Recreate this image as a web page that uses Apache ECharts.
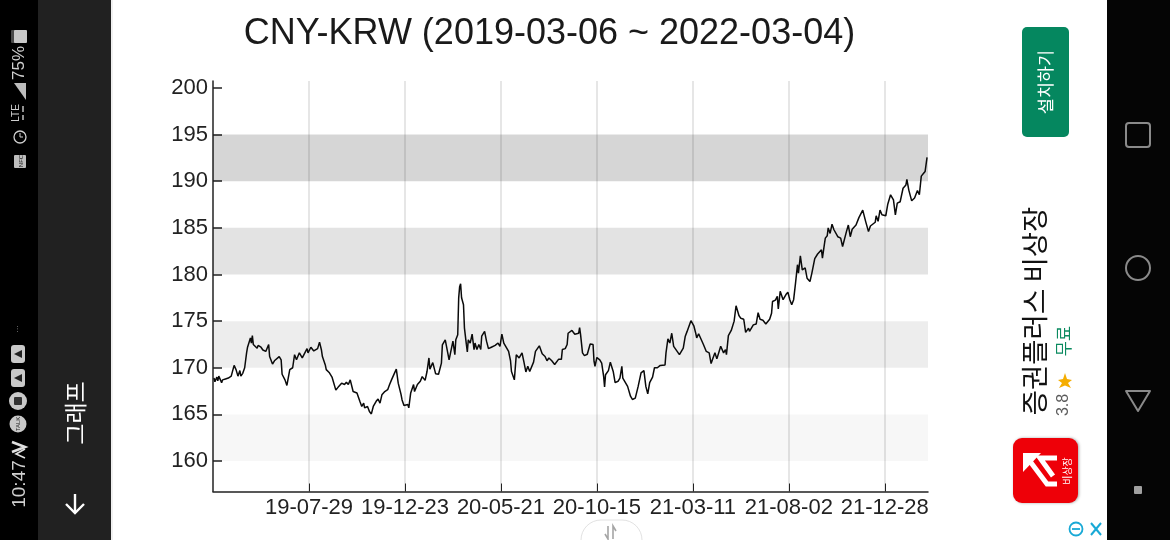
<!DOCTYPE html>
<html>
<head>
<meta charset="utf-8">
<title>CNY-KRW</title>
<style>
  html, body { margin: 0; padding: 0; background: #fff; }
  #chart { width: 1170px; height: 540px; }
</style>
<script src="https://cdn.jsdelivr.net/npm/echarts@6/dist/echarts.min.js"></script>
</head>
<body>
<div id="chart"></div>
<script>
// 차트 데이터
const chartTitle = 'CNY-KRW (2019-03-06 ~ 2022-03-04)';
const sessions = [
  1,2,4,5,6,8,9,10,13,16,19,21,22,24,25,26,28,29,31,33,34,35,36,38,39,40,41,42,44,46,47,50,52,55,56,58,59,61,62,64,66,69,71,72,75,77,79,80,83,85,86,87,90,92,93,98,99,102,105,107,109,111,113,114,117,118,121,
  124,125,128,131,132,134,137,139,141,143,146,148,150,151,153,155,157,158,161,163,165,167,170,172,174,176,179,182,184,186,189,191,193,196,197,199,201,203,204,206,209,210,213,216,218,221,223,225,226,229,232,235,238,239,242,244,
  246,248,250,252,253,255,256,257,258,259,261,262,264,265,266,268,270,272,273,275,277,279,280,283,285,287,290,294,297,299,301,303,305,308,310,311,314,316,319,322,324,326,328,330,334,336,340,343,346,348,350,353,356,360,363,364,367,369,370,
  374,377,381,382,383,385,387,390,392,393,396,397,398,400,403,405,407,408,409,412,414,417,419,422,424,426,427,429,432,434,435,437,440,443,446,449,451,453,455,458,460,463,466,468,471,472,474,476,478,480,482,486,490,492,494,
  498,501,503,504,506,508,511,514,517,519,521,523,525,529,532,534,535,537,540,543,545,548,550,553,555,558,559,563,566,568,570,573,576,580,582,583,586,588,589,591,594,597,599,601,603,605,607,609,610,612,614,617,619,622,624,
  627,630,632,634,635,637,638,640,641,643,645,647,649,651,654,656,658,660,662,664,666,670,673,675,677,679,680,682,683,685,690,691,693,695,697,701,703,706,709,711,713,716,719,722,723,725,728,731,734,736,738,740,742,744
];
const rates = [
  168.9,168.5,169.0,168.6,169.1,169.0,168.4,168.7,168.8,168.9,169.1,169.3,170.25,169.8,169.6,169.1,169.7,169.1,169.4,170.0,170.15,171.6,172.2,172.3,173.2,172.65,173.45,172.5,172.65,172.1,172.4,172.2,171.9,171.75,171.7,172.5,171.2,171.05,170.4,170.75,170.85,171.2,170.85,169.3,168.7,168.1,168.1,169.8,170.0,171.4,171.6,170.85,171.6,171.75,171.05,172.05,171.6,172.2,171.8,171.6,172.05,172.75,171.9,171.2,170.3,169.8,169.5,
  169.0,168.9,167.6,168.0,167.8,168.35,168.2,168.45,168.2,168.7,167.45,167.65,167.3,167.45,166.4,165.85,166.2,165.7,165.85,165.3,165.05,165.85,166.4,166.65,166.2,167.1,167.45,167.65,168.2,168.7,169.4,169.85,168.35,167.1,166.55,165.95,166.15,166.05,165.7,167.3,168.2,167.45,168.2,168.55,169.05,168.65,169.6,171.05,169.85,170.55,169.35,169.3,170.5,172.45,173.0,172.8,
  170.85,170.75,172.85,171.4,173.0,173.55,177.5,178.7,179.0,177.5,176.75,174.25,172.5,171.7,173.0,172.65,173.6,171.95,172.65,171.95,172.5,171.95,173.4,173.9,172.85,172.05,172.2,172.4,172.65,172.3,173.6,172.65,172.65,171.75,170.75,169.6,168.7,171.4,171.05,171.6,170.6,169.55,170.15,169.6,170.6,171.75,172.35,171.5,171.2,170.75,171.05,170.75,170.35,170.9,170.9,171.95,172.05,172.5,173.7,
  174.0,173.6,173.7,174.3,173.55,171.6,171.3,171.45,171.6,172.55,172.5,170.7,170.15,171.1,170.85,170.5,169.1,167.95,169.25,169.7,170.6,169.6,168.4,168.55,168.9,170.15,168.9,168.7,168.0,168.0,166.95,166.6,166.75,168.0,169.45,169.7,168.0,167.2,168.4,169.0,170.0,170.0,170.25,170.3,170.3,171.6,173.1,172.65,173.7,172.3,172.1,171.4,172.1,173.35,173.9,
  175.05,174.5,173.7,173.2,173.65,173.55,172.5,171.75,171.6,170.45,171.05,171.6,170.95,172.3,171.6,171.95,171.4,173.45,174.0,175.0,176.65,175.6,175.3,175.2,173.8,174.25,173.9,174.6,174.7,175.9,175.2,175.1,174.7,175.2,175.85,177.1,177.25,177.65,176.3,178.2,177.3,177.85,178.1,177.3,176.75,177.3,179.1,181.05,180.15,182.0,180.5,180.7,179.6,179.25,180.15,
  181.7,182.2,182.0,182.65,181.75,183.2,183.9,184.15,185.0,184.4,185.4,184.8,184.6,184.05,183.9,183.0,183.1,184.6,185.3,184.05,184.85,185.3,186.1,185.9,186.9,187.1,185.7,185.6,184.6,185.2,185.6,186.3,185.7,186.9,186.4,186.3,187.5,188.55,188.0,186.4,187.65,187.8,189.25,189.6,190.2,189.05,187.9,188.2,189.0,188.55,190.55,190.8,191.05,192.55
];
const xTickSessions = [100, 200, 300, 400, 500, 600, 700];
const xTickLabels = ['19-07-29', '19-12-23', '20-05-21', '20-10-15', '21-03-11', '21-08-02', '21-12-28'];
const yTicks = [160, 165, 170, 175, 180, 185, 190, 195, 200];
const bandLow = [160, 170, 180, 190];
const bandHigh = [165, 175, 185, 195];

const latin = '"Liberation Sans", Arial, sans-serif';
const hangul = '"Noto Sans CJK KR", sans-serif';
const bandAlpha = [0.03, 0.07, 0.11, 0.16];

// 세로로 돌아간 글자 (화면 캡처가 가로 방향이라 전부 90도 회전)
function sideText(text, x, y, size, fill, family) {
  return {
    type: 'text', x: x, y: y, rotation: Math.PI / 2, silent: true,
    style: { text: text, fill: fill, font: size + 'px ' + (family || hangul), align: 'center', verticalAlign: 'middle' }
  };
}
function box(x, y, w, h, fill, r) {
  return { type: 'rect', silent: true, shape: { x: x, y: y, width: w, height: h, r: r || 0 }, style: { fill: fill } };
}
function pill(x, y, w, h, stroke, r, width) {
  return { type: 'rect', silent: true, shape: { x: x, y: y, width: w, height: h, r: r }, style: { fill: 'none', stroke: stroke, lineWidth: width || 2 } };
}
function seg(pts, stroke, width) {
  return { type: 'polyline', silent: true, shape: { points: pts }, style: { fill: 'none', stroke: stroke, lineWidth: width } };
}

const screenParts = [
  // 왼쪽 상태바 / 툴바
  box(0, 0, 38, 540, '#000000'),
  box(38, 0, 73, 540, '#212121'),
  box(111, 0, 2, 540, '#f0f0f0'),
  box(1107, 0, 63, 540, '#050505'),

  box(11, 30, 8, 13, '#4a4a4a', 1),
  box(14, 30, 13, 13, '#c9c9c9', 1),
  sideText('75%', 19, 63, 17, '#cfcfcf', latin),
  { type: 'polygon', silent: true, shape: { points: [[14, 83], [26, 83], [26, 100]] }, style: { fill: '#bdbdbd' } },
  sideText('LTE', 16, 113, 10, '#cfcfcf', latin),
  seg([[23, 106], [23, 112]], '#cfcfcf', 1.4),
  seg([[23, 115], [23, 120]], '#cfcfcf', 1.4),
  { type: 'circle', silent: true, shape: { cx: 20, cy: 137, r: 6 }, style: { fill: 'none', stroke: '#cfcfcf', lineWidth: 1.3 } },
  seg([[20, 137], [20, 133]], '#cfcfcf', 1),
  seg([[20, 137], [23, 137]], '#cfcfcf', 1),
  box(14, 155, 12, 13, '#bdbdbd', 1),
  sideText('NFC', 21, 161, 6, '#111111', latin),
  sideText('···', 18, 329, 8, '#9a9a9a', latin),
  box(11, 345, 14, 18, '#c9c9c9', 3),
  box(11, 369, 14, 18, '#c9c9c9', 3),
  { type: 'polygon', silent: true, shape: { points: [[14, 354], [22, 350], [22, 358]] }, style: { fill: '#222222' } },
  { type: 'polygon', silent: true, shape: { points: [[14, 378], [22, 374], [22, 382]] }, style: { fill: '#222222' } },
  { type: 'circle', silent: true, shape: { cx: 18, cy: 401, r: 9 }, style: { fill: '#c9c9c9' } },
  box(14, 397, 8, 8, '#333333', 1),
  { type: 'circle', silent: true, shape: { cx: 18, cy: 424, r: 8.5 }, style: { fill: '#c9c9c9' } },
  sideText('TALK', 18, 424, 6, '#222222', latin),
  seg([[12, 442], [25, 447], [12, 452]], '#e0e0e0', 2.6),
  seg([[25, 449], [16, 454], [25, 458]], '#e0e0e0', 1.6),
  sideText('10:47', 20, 484, 19, '#d0d0d0', latin),

  sideText('그래프', 75, 413, 23, '#ffffff'),
  seg([[75, 494], [75, 513]], '#ffffff', 2.4),
  seg([[66, 504], [75, 513], [84, 504]], '#ffffff', 2.4),

  // 오른쪽 내비게이션
  pill(1126, 123, 24, 24, '#8a8a8a', 3),
  { type: 'circle', silent: true, shape: { cx: 1138, cy: 268, r: 12 }, style: { fill: 'none', stroke: '#8a8a8a', lineWidth: 2 } },
  { type: 'polygon', silent: true, shape: { points: [[1126, 391], [1150, 391], [1138, 411]] }, style: { fill: 'none', stroke: '#8a8a8a', lineWidth: 2, lineJoin: 'round' } },
  box(1134, 486, 8, 8, '#a0a0a0', 1),

  // 광고 영역
  box(1022, 27, 47, 110, '#05875f', 5),
  sideText('설치하기', 1045, 82, 17.5, '#ffffff'),
  sideText('증권플러스 비상장', 1035, 311, 27.5, '#111111'),
  sideText('무료', 1064, 341, 16.5, '#0a8a5f'),
  { type: 'polygon', silent: true, shape: { points: [[1058, 380], [1063, 379], [1065, 373], [1067, 379], [1072, 380], [1068, 383], [1071, 388], [1065, 385.5], [1059, 388], [1062, 383]] }, style: { fill: '#f5ad00' } },
  sideText('3.8', 1064, 405, 16, '#5a5a5a', latin),

  { type: 'rect', silent: true, shape: { x: 1013, y: 438, width: 65, height: 65, r: 9 }, style: { fill: '#ee0008', shadowBlur: 3, shadowColor: 'rgba(0,0,0,0.35)', shadowOffsetX: 1 } },
  { type: 'polygon', silent: true, shape: { points: [[1023, 453], [1041, 453], [1023, 472]] }, style: { fill: '#ffffff' } },
  seg([[1029, 460], [1047, 484], [1057, 484]], '#ffffff', 5),
  seg([[1057, 458], [1040, 458], [1053, 476]], '#ffffff', 5),
  sideText('비상장', 1067, 471, 10, '#ffffff'),

  { type: 'circle', silent: true, shape: { cx: 1076, cy: 529, r: 6.5 }, style: { fill: 'none', stroke: '#18a9d6', lineWidth: 1.8 } },
  seg([[1072, 529], [1080, 529]], '#18a9d6', 1.8),
  seg([[1091, 523], [1101, 535]], '#18a9d6', 2),
  seg([[1101, 523], [1091, 535]], '#18a9d6', 2),

  // 하단 손잡이
  { type: 'rect', silent: true, shape: { x: 581, y: 520, width: 61, height: 30, r: [20, 20, 0, 0] }, style: { fill: '#ffffff', stroke: '#e2e2e2', lineWidth: 1 } },
  seg([[608, 526], [608, 539], [605, 534]], '#a5a5a5', 1.6),
  seg([[613, 539], [613, 526], [616, 531]], '#a5a5a5', 1.6)
];

const chart = echarts.init(document.getElementById('chart'));

chart.setOption({
  animation: false,
  backgroundColor: '#ffffff',
  textStyle: { fontFamily: latin },
  title: {
    text: chartTitle,
    left: 544.5,
    top: 11,
    textAlign: 'center',
    textStyle: { fontFamily: latin, fontSize: 36, fontWeight: 'normal', color: '#1a1a1a' }
  },
  grid: { left: 213, right: 242, top: 81, bottom: 48.5 },
  xAxis: {
    type: 'value',
    min: 0,
    max: 745,
    axisLine: { show: true, onZero: false, lineStyle: { color: '#222222', width: 1.5 } },
    axisTick: { show: true, inside: true, length: 8, customValues: xTickSessions, lineStyle: { color: '#222222', width: 1 } },
    axisLabel: {
      customValues: xTickSessions,
      margin: 5,
      fontSize: 22,
      color: '#222222',
      formatter: function (v) { return xTickLabels[xTickSessions.indexOf(v)] || ''; }
    },
    splitLine: { show: true, lineStyle: { color: '#e6e6e6', width: 2 } }
  },
  yAxis: {
    type: 'value',
    min: 156.73,
    max: 200.75,
    axisLine: { show: true, onZero: false, lineStyle: { color: '#222222', width: 1.5 } },
    axisTick: { show: true, inside: true, length: 9, customValues: yTicks, lineStyle: { color: '#222222', width: 1.5 } },
    axisLabel: { customValues: yTicks, margin: 5, fontSize: 22, color: '#222222' },
    splitLine: { show: false }
  },
  series: [{
    type: 'line',
    data: sessions.map(function (s, i) { return [s, rates[i]]; }),
    showSymbol: false,
    silent: true,
    lineStyle: { color: '#0a0a0a', width: 1.5 },
    markArea: {
      silent: true,
      data: bandLow.map(function (low, i) {
        return [
          { yAxis: low, itemStyle: { color: 'rgba(0,0,0,' + bandAlpha[i] + ')' } },
          { yAxis: bandHigh[i] }
        ];
      })
    }
  }],
  graphic: { elements: screenParts }
});

window.addEventListener('resize', function () { chart.resize(); });
</script>
</body>
</html>
